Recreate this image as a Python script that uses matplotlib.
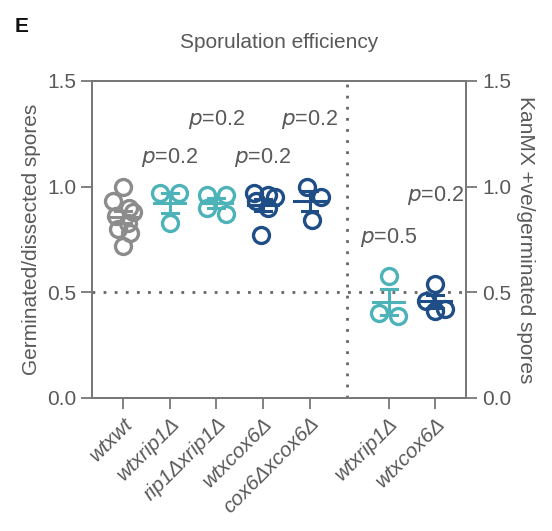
import numpy as np
import matplotlib
matplotlib.use('Agg')
import matplotlib.pyplot as plt

# germination (left axis) and KanMX+ (right axis) fractions per cross
labels = ['wtxwt', 'wtxrip1Δ', 'rip1Δxrip1Δ', 'wtxcox6Δ', 'cox6Δxcox6Δ',
          'wtxrip1Δ', 'wtxcox6Δ']
wtxwt = [1.00, 0.93, 0.90, 0.88, 0.86, 0.83, 0.80, 0.78, 0.72]
wtxrip1 = [0.97, 0.97, 0.83]
rip1xrip1 = [0.96, 0.96, 0.90, 0.87]
wtxcox6 = [0.97, 0.96, 0.95, 0.93, 0.90, 0.77]
cox6xcox6 = [1.00, 0.95, 0.84]
kan_wtxrip1 = [0.575, 0.40, 0.39]
kan_wtxcox6 = [0.54, 0.46, 0.42, 0.41]
pvals = ['0.2', '0.2', '0.2', '0.2', '0.5', '0.2']

groups = [wtxwt, wtxrip1, rip1xrip1, wtxcox6, cox6xcox6, kan_wtxrip1, kan_wtxcox6]
xpos = [0, 1, 2, 3, 4, 5.7, 6.7]
colors = ['#8c8c8c', '#4db3b8', '#4db3b8', '#1f4e87', '#1f4e87', '#4db3b8', '#1f4e87']
jitter = [
    [0.0, -0.22, 0.12, 0.2, -0.15, 0.1, -0.12, 0.15, 0.0],
    [-0.2, 0.2, 0.0],
    [-0.2, 0.2, -0.2, 0.2],
    [-0.2, 0.1, 0.25, -0.15, 0.1, -0.05],
    [-0.05, 0.25, 0.05],
    [0.0, -0.2, 0.2],
    [0.0, -0.2, 0.2, 0.0],
]
# p-value label positions (x, y) in data units
p_xy = [(1, 1.14), (2, 1.32), (3, 1.14), (4, 1.32), (5.7, 0.76), (6.7, 0.96)]

txt = '#595959'
plt.rcParams['font.family'] = ['Liberation Sans', 'DejaVu Sans']

fig = plt.figure(figsize=(5.52, 5.31), dpi=100)
ax = fig.add_axes([0.1667, 0.2505, 0.6775, 0.597])

for x, vals, jit, c in zip(xpos, groups, jitter, colors):
    vals = np.array(vals)
    ax.plot(x + np.array(jit), vals, 'o', mfc='none', mec=c, mew=2.4, ms=11.5,
            zorder=3)
    m = vals.mean()
    sem = vals.std(ddof=1) / np.sqrt(len(vals))
    ax.plot([x - 0.33, x + 0.33], [m, m], color=c, lw=2.2, zorder=4)
    ax.plot([x, x], [m - sem, m + sem], color=c, lw=2.2, zorder=4)
    ax.plot([x - 0.17, x + 0.17], [m - sem] * 2, color=c, lw=2.2, zorder=4)
    ax.plot([x - 0.17, x + 0.17], [m + sem] * 2, color=c, lw=2.2, zorder=4)

for (x, y), p in zip(p_xy, pvals):
    ax.text(x, y, r'$\mathit{p}$=' + p, ha='center', va='center',
            fontsize=15.5, color=txt)

ax.axhline(0.5, color='#666666', ls=(0, (1, 3)), lw=2, zorder=1)
ax.axvline(4.8, color='#666666', ls=(0, (1, 3)), lw=2, zorder=1)

ax.set_xlim(-0.67, 7.36)
ax.set_ylim(0, 1.5)
ax.set_yticks([0, 0.5, 1.0, 1.5])
ax.set_xticks(xpos)
ax.set_xticklabels(labels, rotation=45, ha='right', rotation_mode='anchor',
                   fontsize=15, style='italic', color=txt)

ax2 = ax.twinx()
ax2.set_ylim(0, 1.5)
ax2.set_yticks([0, 0.5, 1.0, 1.5])

for a in (ax, ax2):
    for s in a.spines.values():
        s.set_color('#777777')
        s.set_linewidth(1.3)
    a.tick_params(colors='#777777', labelcolor=txt, labelsize=15,
                  length=8, width=1.3)
    a.yaxis.set_major_formatter(matplotlib.ticker.FormatStrFormatter('%.1f'))
ax.tick_params(axis='x', labelsize=15)

ax.set_ylabel('Germinated/dissected spores', fontsize=15, color=txt, labelpad=4)
ax2.set_ylabel('KanMX +ve/germinated spores', fontsize=15, color=txt,
               rotation=270, labelpad=17)
ax.set_title('Sporulation efficiency', fontsize=15, color=txt, pad=24)
fig.text(0.027, 0.94, 'E', fontsize=15, fontweight='bold', color='#111111')

fig.savefig('out.png', dpi=100)
